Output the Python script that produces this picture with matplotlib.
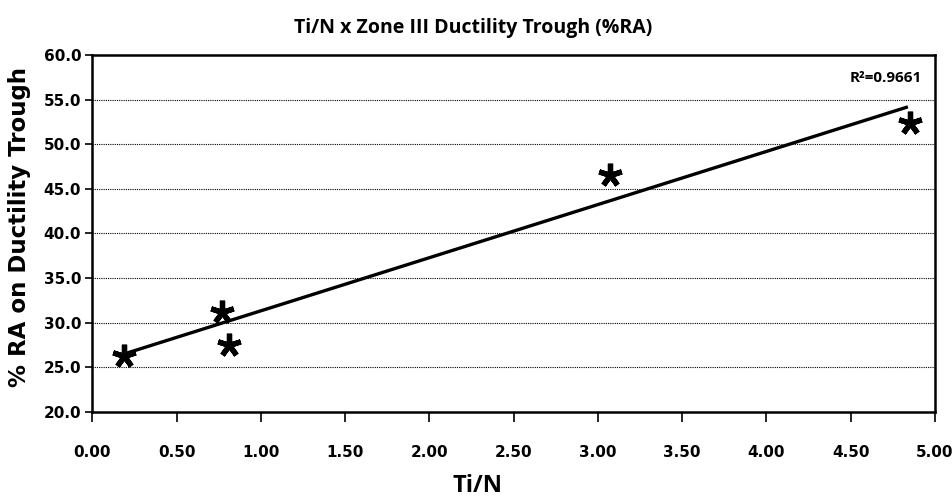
import matplotlib.pyplot as plt

plt.rcParams['font.family'] = ['Open Sans', 'DejaVu Sans']
plt.rcParams['font.weight'] = 'bold'

# data
ti_n = [0.19, 0.77, 0.81, 3.07, 4.85]
ra_trough = [26.3, 31.2, 27.5, 46.6, 52.4]
trend_x = [0.19, 4.84]
trend_y = [26.5, 54.2]
r2_label = 'R²=0.9661'
x_ticks = [0.0, 0.5, 1.0, 1.5, 2.0, 2.5, 3.0, 3.5, 4.0, 4.5, 5.0]
y_ticks = [20.0, 25.0, 30.0, 35.0, 40.0, 45.0, 50.0, 55.0, 60.0]

heavy = ['DejaVu Sans']

fig = plt.figure(figsize=(9.52, 5.01), dpi=100)
ax = fig.add_axes([0.097, 0.178, 0.885, 0.712])

ax.plot(trend_x, trend_y, color='black', lw=2.4, solid_capstyle='butt', zorder=3)
ax.plot(ti_n, ra_trough, ls='none', marker=(5, 2, 0), ms=17, mew=3.8,
        color='black', zorder=4)

ax.set_xlim(0, 5)
ax.set_ylim(20, 60)
ax.set_xticks(x_ticks)
ax.set_yticks(y_ticks)
ax.set_xticklabels([f'{v:.2f}' for v in x_ticks], family=heavy, fontsize=11,
                   fontweight='bold')
ax.set_yticklabels([f'{v:.1f}' for v in y_ticks], family=heavy, fontsize=11,
                   fontweight='bold')
ax.tick_params(axis='both', width=1.2, colors='black')
ax.tick_params(axis='x', length=7, pad=17)
ax.tick_params(axis='y', length=5, pad=3)

for y in y_ticks[1:-1]:
    ax.axhline(y, color='black', lw=0.8, ls=(0, (1, 1)), zorder=1)

for side in ['left', 'bottom', 'top', 'right']:
    ax.spines[side].set_linewidth(1.8)

ax.text(0.985, 0.955, r2_label, transform=ax.transAxes, ha='right', va='top',
        fontsize=11, fontweight='bold')

fig.text(0.497, 0.945, 'Ti/N x Zone III Ductility Trough (%RA)', ha='center',
         va='center', fontsize=14, fontweight='bold')
fig.text(0.502, 0.03, 'Ti/N', ha='center', va='center', fontsize=17,
         fontweight='bold')
fig.text(0.02, 0.547, '% RA on Ductility Trough', ha='center', va='center',
         rotation=90, fontsize=16.5, fontweight='bold', family=heavy)

fig.savefig('out.png', dpi=100)
